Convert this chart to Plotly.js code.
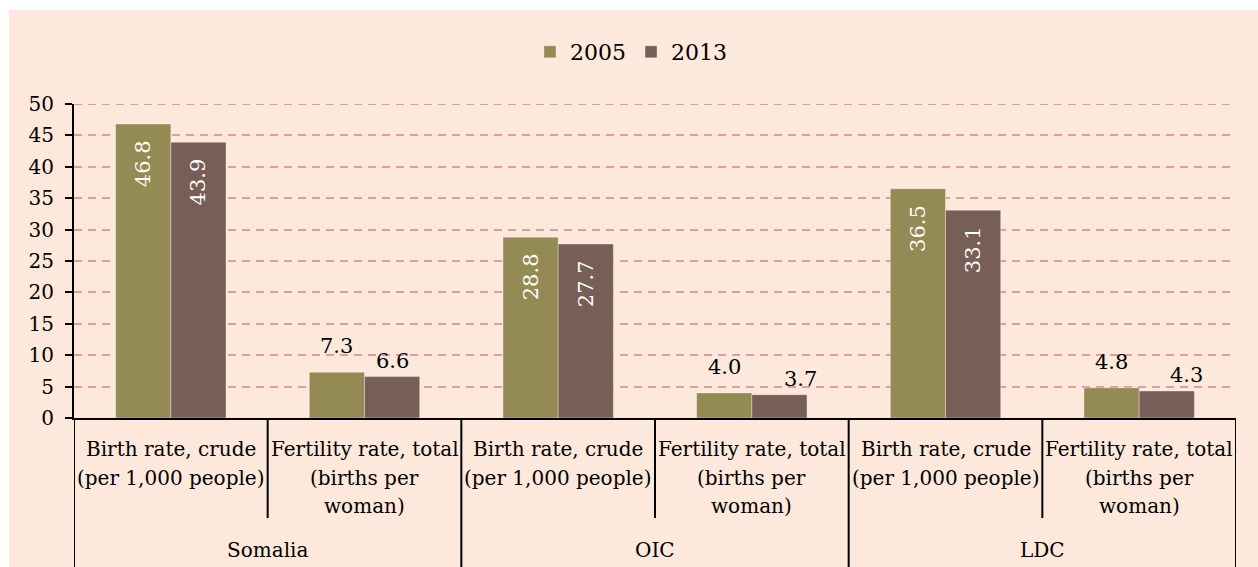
<!DOCTYPE html>
<html>
<head>
<meta charset="utf-8">
<script src="https://cdn.plot.ly/plotly-3.0.1.min.js"></script>
<style>
  html, body { margin: 0; padding: 0; background: #ffffff; }
  #chart { width: 1258px; height: 567px; }
</style>
</head>
<body>
<div id="chart"></div>
<script>
// ---- data ----
const groups = ['Somalia', 'Somalia', 'OIC', 'OIC', 'LDC', 'LDC'];
const indicators = [
  'Birth rate, crude<br>(per 1,000 people)',
  'Fertility rate, total<br>(births per<br>woman)',
  'Birth rate, crude<br>(per 1,000 people)',
  'Fertility rate, total<br>(births per<br>woman)',
  'Birth rate, crude<br>(per 1,000 people)',
  'Fertility rate, total<br>(births per<br>woman)'
];
const seriesNames = ['2005', '2013'];
const values2005 = [46.8, 7.3, 28.8, 4.0, 36.5, 4.8];
const values2013 = [43.9, 6.6, 27.7, 3.7, 33.1, 4.3];

// ---- style ----
const W = 1258, H = 567;
const M = { l: 74, r: 22, t: 104, b: 149 };
const plotH = H - M.t - M.b;
const FONT = 'DejaVu Serif, Liberation Serif, serif';
const colors = ['#938A54', '#775E57'];
const GRID = { color: '#DE9E9E', width: 2, dash: '8px,6px' };
const BARGAP = 0.43;
const halfBar = (1 - BARGAP) / 4;          // half of one bar width in x units
const labelLift = [26, 16];                 // outside label lift (px) per series
const labelNudge2013 = [0, 0, 0, 21, 0, 20]; // small horizontal nudges for 2013 outside labels
const Y_MAX = 50;

const py = p => (H - M.b - p) / plotH;      // pixel y -> paper y
const px = p => (p - M.l) / (W - M.l - M.r); // pixel x -> paper x

const xs = indicators.map((_, i) => i);
const seriesVals = [values2005, values2013];

const traces = seriesVals.map((vals, s) => ({
  type: 'bar',
  name: seriesNames[s],
  x: xs,
  y: vals,
  marker: { color: colors[s], line: { color: 'rgba(255,255,255,0.35)', width: 1 } },
  texttemplate: vals.map(v => v > 20 ? '%{y:.1f}\u00a0\u00a0' : ''),
  textposition: vals.map(v => v > 20 ? 'inside' : 'none'),
  insidetextanchor: 'end',
  textangle: -90,
  constraintext: 'none',
  insidetextfont: { family: FONT, size: 21, color: '#ffffff' },
  hoverinfo: 'x+y'
}));

const annotations = [];
// outside value labels for short bars
seriesVals.forEach((vals, s) => {
  vals.forEach((v, i) => {
    if (v <= 20) {
      annotations.push({
        x: i + (s === 0 ? -halfBar : halfBar), y: v, xref: 'x', yref: 'y',
        text: v.toFixed(1), showarrow: false,
        xanchor: 'center', yanchor: 'middle',
        yshift: labelLift[s], xshift: s === 1 ? labelNudge2013[i] : 0,
        font: { family: FONT, size: 21, color: '#000000' }
      });
    }
  });
});
// inner category labels (one annotation per line)
indicators.forEach((lab, i) => {
  lab.split('<br>').forEach((line, k) => {
    annotations.push({
      x: i, y: py(449 + k * 28.5), xref: 'x', yref: 'paper',
      text: line, showarrow: false, xanchor: 'center', yanchor: 'middle',
      font: { family: FONT, size: 20, color: '#000000' }
    });
  });
});
// outer group labels
const uniqueGroups = [...new Set(groups)];
uniqueGroups.forEach(g => {
  const idx = groups.map((gg, i) => gg === g ? i : null).filter(v => v !== null);
  const mid = idx.reduce((a, b) => a + b, 0) / idx.length;
  annotations.push({
    x: mid, y: py(550), xref: 'x', yref: 'paper',
    text: g, showarrow: false, xanchor: 'center', yanchor: 'middle',
    font: { family: FONT, size: 20, color: '#000000' }
  });
});

const shapes = [
  { type: 'rect', xref: 'paper', yref: 'paper', x0: px(9), x1: px(W + 5), y0: py(H + 5), y1: py(10),
    fillcolor: '#FDE9DC', line: { width: 0 }, layer: 'below' },
  // top gridline (Plotly drops the gridline at the range edge)
  { type: 'line', xref: 'paper', yref: 'y', x0: 0, x1: 1, y0: Y_MAX, y1: Y_MAX,
    line: { color: GRID.color, width: GRID.width, dash: GRID.dash }, layer: 'below' }
];
// divider lines under the axis
for (let i = 0; i <= xs.length; i++) {
  const long = (i === 0 || i === xs.length || groups[i] !== groups[i - 1]);
  shapes.push({
    type: 'line', xref: 'x', yref: 'paper', x0: i - 0.5, x1: i - 0.5,
    y0: 0, y1: long ? py(H + 2) : py(518),
    line: { color: '#000000', width: 2 }
  });
}

const layout = {
  width: W, height: H,
  margin: M,
  paper_bgcolor: '#ffffff',
  plot_bgcolor: 'rgba(0,0,0,0)',
  barmode: 'group',
  bargap: BARGAP,
  bargroupgap: 0,
  font: { family: FONT, color: '#000000' },
  showlegend: true,
  legend: {
    orientation: 'h', x: px(530), xanchor: 'left', y: py(52), yanchor: 'middle',
    font: { family: FONT, size: 22, color: '#000000' },
    bgcolor: 'rgba(0,0,0,0)'
  },
  xaxis: {
    range: [-0.5, 5.5], showticklabels: false, showgrid: false, zeroline: false,
    showline: true, linecolor: '#000000', linewidth: 2, ticks: '', fixedrange: true
  },
  yaxis: {
    range: [0, Y_MAX], dtick: 5, tick0: 0,
    tickfont: { family: FONT, size: 20, color: '#000000' },
    ticks: 'outside', ticklen: 7, tickwidth: 2, tickcolor: '#000000',
    ticklabelstandoff: 7,
    showline: true, linecolor: '#000000', linewidth: 2,
    showgrid: true, gridcolor: GRID.color, gridwidth: GRID.width, griddash: GRID.dash,
    zeroline: false, fixedrange: true
  },
  annotations: annotations,
  shapes: shapes
};

Plotly.newPlot('chart', traces, layout, { displayModeBar: false, staticPlot: true });
</script>
</body>
</html>
